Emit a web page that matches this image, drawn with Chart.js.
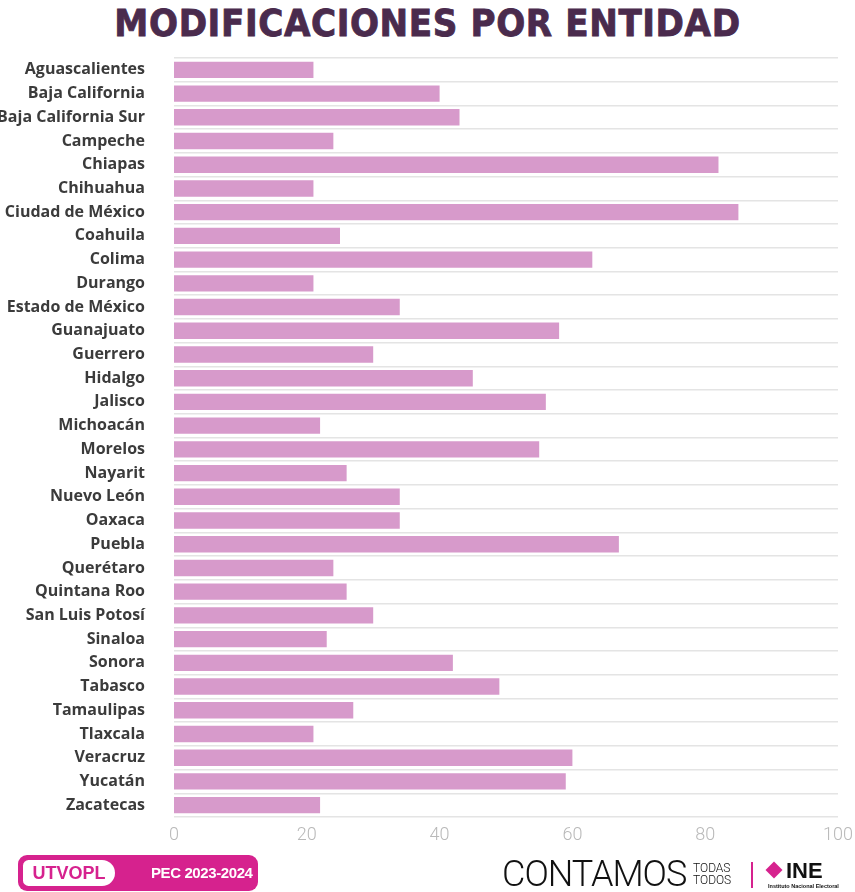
<!DOCTYPE html>
<html>
<head>
  <meta charset="UTF-8" />
  <title>Modificaciones por entidad</title>
  <script src="https://cdn.jsdelivr.net/npm/chart.js"></script>
  <style>
    body {
      margin: 0;
      background: #fff;
      width: 855px;
      height: 892px;
      overflow: hidden;
      position: relative;
      font-family: 'Open Sans', sans-serif;
    }
    h1 {
      position: absolute;
      top: 1px;
      left: 0;
      width: 855px;
      margin: 0;
      text-align: center;
      font-family: 'DejaVu Sans', sans-serif;
      font-stretch: condensed;
      font-weight: bold;
      font-size: 38px;
      line-height: 44px;
      letter-spacing: 0.6px;
      color: #4a2b4d;
      -webkit-text-stroke: 0.8px #4a2b4d;
    }
    #wrap {
      position: absolute;
      left: 0;
      top: 0;
      width: 855px;
      height: 892px;
    }
    .badge {
      position: absolute;
      left: 18px;
      top: 855px;
      width: 240px;
      height: 36px;
      background: #d6228e;
      border-radius: 9px;
    }
    .badge .inner {
      position: absolute;
      left: 5px;
      top: 5px;
      width: 92px;
      height: 26px;
      background: #fff;
      border-radius: 6px 14px 14px 6px;
      color: #d6228e;
      font-family: 'Liberation Sans', sans-serif;
      font-weight: bold;
      font-size: 18px;
      line-height: 26px;
      text-align: center;
    }
    .badge .pec {
      position: absolute;
      left: 133px;
      top: 0;
      color: #fff;
      font-family: 'Liberation Sans', sans-serif;
      font-weight: bold;
      font-size: 15px;
      line-height: 36px;
      letter-spacing: -0.4px;
    }
    .contamos {
      position: absolute;
      left: 502px;
      top: 855px;
      font-family: 'Roboto', sans-serif;
      font-weight: 300;
      font-size: 36px;
      line-height: 38px;
      color: #111;
      letter-spacing: -1px;
    }
    .todas {
      position: absolute;
      left: 693px;
      top: 862px;
      font-family: 'Roboto', sans-serif;
      font-weight: 300;
      font-size: 12px;
      line-height: 12px;
      color: #111;
    }
    .sep {
      position: absolute;
      left: 751px;
      top: 862px;
      width: 2px;
      height: 26px;
      background: #d6228e;
    }
    .ine {
      position: absolute;
      left: 768px;
      top: 860px;
      font-family: 'Liberation Sans', sans-serif;
      font-weight: bold;
      font-size: 22px;
      line-height: 22px;
      color: #111;
    }
    .ine .dia {
      display: inline-block;
      width: 12px;
      height: 12px;
      background: #d6228e;
      transform: rotate(45deg);
      margin-right: 6px;
      vertical-align: 2px;
    }
    .ine small {
      display: block;
      font-size: 5.5px;
      line-height: 8px;
      font-weight: bold;
    }
  </style>
</head>
<body>
  <h1>MODIFICACIONES POR ENTIDAD</h1>
  <div id="wrap"><canvas id="chart" width="855" height="892"></canvas></div>

  <div class="badge"><div class="inner">UTVOPL</div><div class="pec">PEC 2023-2024</div></div>
  <div class="contamos">CONTAMOS</div>
  <div class="todas">TODAS<br>TODOS</div>
  <div class="sep"></div>
  <div class="ine"><span class="dia"></span>INE<small>Instituto Nacional Electoral</small></div>

  <script>
    const entidades = [
      "Aguascalientes", "Baja California", "Baja California Sur", "Campeche", "Chiapas",
      "Chihuahua", "Ciudad de México", "Coahuila", "Colima", "Durango", "Estado de México",
      "Guanajuato", "Guerrero", "Hidalgo", "Jalisco", "Michoacán", "Morelos", "Nayarit",
      "Nuevo León", "Oaxaca", "Puebla", "Querétaro", "Quintana Roo", "San Luis Potosí",
      "Sinaloa", "Sonora", "Tabasco", "Tamaulipas", "Tlaxcala", "Veracruz", "Yucatán", "Zacatecas"
    ];
    const modificaciones = [
      21, 40, 43, 24, 82,
      21, 85, 25, 63, 21, 34,
      58, 30, 45, 56, 22, 55, 26,
      34, 34, 67, 24, 26, 30,
      23, 42, 49, 27, 21, 60, 59, 22
    ];
    const xTicks = [0, 20, 40, 60, 80, 100];

    new Chart(document.getElementById("chart"), {
      type: 'bar',
      data: {
        labels: entidades,
        datasets: [{
          data: modificaciones,
          backgroundColor: '#d79acb',
          borderWidth: 0,
          barPercentage: 0.69,
          categoryPercentage: 1
        }]
      },
      options: {
        indexAxis: 'y',
        responsive: false,
        animation: false,
        layout: { padding: { top: 58, right: 17, left: 0, bottom: 0 } },
        plugins: { legend: { display: false }, tooltip: { enabled: false } },
        scales: {
          x: {
            min: 0,
            max: 100,
            afterFit: s => { s.height = 75; },
            afterBuildTicks: s => { s.ticks = xTicks.map(v => ({ value: v })); },
            grid: { display: false },
            border: { display: false },
            ticks: {
              color: '#b9b9b9',
              padding: 0,
              font: { family: 'Roboto', weight: '300', size: 18 }
            }
          },
          y: {
            afterFit: s => { s.width = 174; },
            grid: { color: '#e4e4e4', lineWidth: 1.5, drawTicks: false, offset: true },
            border: { display: false },
            ticks: {
              color: '#3b3b3b',
              padding: 29,
              font: { family: 'Open Sans', weight: 'bold', size: 16 }
            }
          }
        }
      }
    });
  </script>
</body>
</html>
